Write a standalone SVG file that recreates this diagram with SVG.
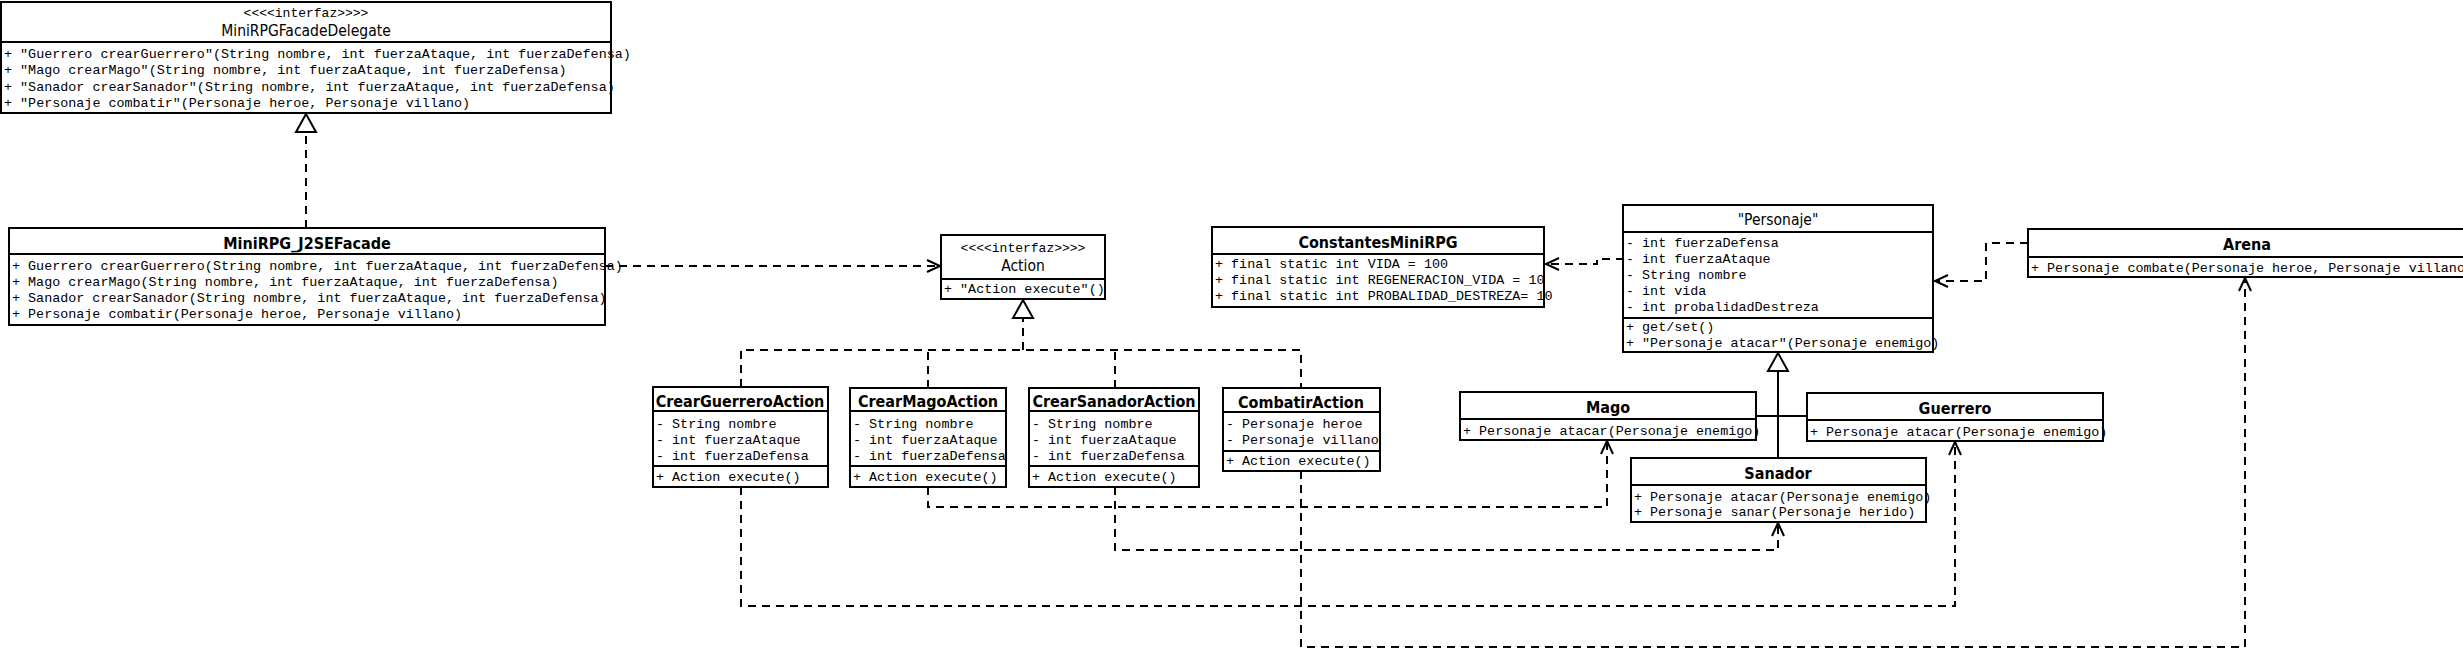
<svg xmlns="http://www.w3.org/2000/svg" width="2463" height="665" viewBox="0 0 2463 665">
<style>
.box{fill:#fff;stroke:#000;stroke-width:2}
.ln{fill:none;stroke:#000;stroke-width:2}
.mono{font-family:"Liberation Mono","DejaVu Sans Mono",monospace;font-size:13.4px;fill:#000}
.ster{font-family:"Liberation Mono","DejaVu Sans Mono",monospace;font-size:13px;fill:#000;text-anchor:middle}
.bt{font-family:"DejaVu Sans Condensed","DejaVu Sans",sans-serif;font-stretch:condensed;font-weight:bold;font-size:16px;text-anchor:middle;fill:#000}
.rt{font-family:"DejaVu Sans Condensed","DejaVu Sans",sans-serif;font-stretch:condensed;font-size:15.5px;text-anchor:middle;fill:#000}
.dep{fill:none;stroke:#000;stroke-width:2;stroke-dasharray:8 6}
.sol{fill:none;stroke:#000;stroke-width:2}
</style>
<defs>
<marker id="open" markerUnits="userSpaceOnUse" markerWidth="16" markerHeight="14" refX="13" refY="6" orient="auto" overflow="visible">
<path d="M0,0 L13,6 L0,12" fill="none" stroke="#000" stroke-width="2" stroke-dasharray="none"/>
</marker>
<marker id="tri" markerUnits="userSpaceOnUse" markerWidth="22" markerHeight="24" refX="18" refY="10" orient="auto" overflow="visible">
<path d="M0,0 L18,10 L0,20 Z" fill="#fff" stroke="#000" stroke-width="2" stroke-dasharray="none"/>
</marker>
</defs>
<rect width="2463" height="665" fill="#fff"/>

<g id="connectors">
<path class="dep" d="M306,228 V114" marker-end="url(#tri)"/>
<path class="dep" d="M605,266 H940" marker-end="url(#open)"/>
<path class="dep" d="M741,387 V350 H1301 V388"/>
<path class="dep" d="M928,388 V350"/>
<path class="dep" d="M1115,388 V350"/>
<path class="dep" d="M1023,350 V300" marker-end="url(#tri)"/>
<path class="dep" d="M741,487 V606 H1955 V442" marker-end="url(#open)"/>
<path class="dep" d="M928,487 V507 H1607 V441" marker-end="url(#open)"/>
<path class="dep" d="M1115,487 V550 H1778 V523" marker-end="url(#open)"/>
<path class="dep" d="M1301,471 V647 H2245 V278" marker-end="url(#open)"/>
<path class="dep" d="M1624,259 H1597 V264 H1546" marker-end="url(#open)"/>
<path class="dep" d="M2028,243 H1986 V281 H1935" marker-end="url(#open)"/>
<path class="sol" d="M1778,458 V353" marker-end="url(#tri)"/>
<path class="sol" d="M1756,416 H1807"/>
</g>

<g id="MiniRPGFacadeDelegate">
<rect class="box" x="1" y="2" width="610" height="111"/>
<line class="ln" x1="1" y1="42" x2="611" y2="42"/>
<text class="ster" x="306" y="17">&lt;&lt;&lt;&lt;interfaz&gt;&gt;&gt;&gt;</text>
<text class="rt" x="306" y="36">MiniRPGFacadeDelegate</text>
<text class="mono" x="4" y="58">+ "Guerrero crearGuerrero"(String nombre, int fuerzaAtaque, int fuerzaDefensa)</text>
<text class="mono" x="4" y="74">+ "Mago crearMago"(String nombre, int fuerzaAtaque, int fuerzaDefensa)</text>
<text class="mono" x="4" y="91">+ "Sanador crearSanador"(String nombre, int fuerzaAtaque, int fuerzaDefensa)</text>
<text class="mono" x="4" y="107">+ "Personaje combatir"(Personaje heroe, Personaje villano)</text>
</g>

<g id="MiniRPG_J2SEFacade">
<rect class="box" x="9" y="228" width="596" height="97"/>
<line class="ln" x1="9" y1="254" x2="605" y2="254"/>
<text class="bt" x="307" y="249">MiniRPG_J2SEFacade</text>
<text class="mono" x="12" y="270">+ Guerrero crearGuerrero(String nombre, int fuerzaAtaque, int fuerzaDefensa)</text>
<text class="mono" x="12" y="286">+ Mago crearMago(String nombre, int fuerzaAtaque, int fuerzaDefensa)</text>
<text class="mono" x="12" y="302">+ Sanador crearSanador(String nombre, int fuerzaAtaque, int fuerzaDefensa)</text>
<text class="mono" x="12" y="318">+ Personaje combatir(Personaje heroe, Personaje villano)</text>
</g>

<g id="Action">
<rect class="box" x="941" y="235" width="164" height="64"/>
<line class="ln" x1="941" y1="279" x2="1105" y2="279"/>
<text class="ster" x="1023" y="252">&lt;&lt;&lt;&lt;interfaz&gt;&gt;&gt;&gt;</text>
<text class="rt" x="1023" y="271">Action</text>
<text class="mono" x="944" y="293">+ "Action execute"()</text>
</g>

<g id="CrearGuerreroAction">
<rect class="box" x="653" y="387" width="175" height="100"/>
<line class="ln" x1="653" y1="411" x2="828" y2="411"/>
<line class="ln" x1="653" y1="466" x2="828" y2="466"/>
<text class="bt" x="740" y="407">CrearGuerreroAction</text>
<text class="mono" x="656" y="428">- String nombre</text>
<text class="mono" x="656" y="444">- int fuerzaAtaque</text>
<text class="mono" x="656" y="460">- int fuerzaDefensa</text>
<text class="mono" x="656" y="481">+ Action execute()</text>
</g>

<g id="CrearMagoAction">
<rect class="box" x="850" y="388" width="156" height="99"/>
<line class="ln" x1="850" y1="411" x2="1006" y2="411"/>
<line class="ln" x1="850" y1="466" x2="1006" y2="466"/>
<text class="bt" x="928" y="407">CrearMagoAction</text>
<text class="mono" x="853" y="428">- String nombre</text>
<text class="mono" x="853" y="444">- int fuerzaAtaque</text>
<text class="mono" x="853" y="460">- int fuerzaDefensa</text>
<text class="mono" x="853" y="481">+ Action execute()</text>
</g>

<g id="CrearSanadorAction">
<rect class="box" x="1029" y="388" width="170" height="99"/>
<line class="ln" x1="1029" y1="411" x2="1199" y2="411"/>
<line class="ln" x1="1029" y1="466" x2="1199" y2="466"/>
<text class="bt" x="1114" y="407">CrearSanadorAction</text>
<text class="mono" x="1032" y="428">- String nombre</text>
<text class="mono" x="1032" y="444">- int fuerzaAtaque</text>
<text class="mono" x="1032" y="460">- int fuerzaDefensa</text>
<text class="mono" x="1032" y="481">+ Action execute()</text>
</g>

<g id="CombatirAction">
<rect class="box" x="1223" y="388" width="157" height="83"/>
<line class="ln" x1="1223" y1="412" x2="1380" y2="412"/>
<line class="ln" x1="1223" y1="451" x2="1380" y2="451"/>
<text class="bt" x="1301" y="408">CombatirAction</text>
<text class="mono" x="1226" y="428">- Personaje heroe</text>
<text class="mono" x="1226" y="444">- Personaje villano</text>
<text class="mono" x="1226" y="465">+ Action execute()</text>
</g>

<g id="ConstantesMiniRPG">
<rect class="box" x="1212" y="227" width="332" height="80"/>
<line class="ln" x1="1212" y1="254" x2="1544" y2="254"/>
<text class="bt" x="1378" y="248">ConstantesMiniRPG</text>
<text class="mono" x="1215" y="268">+ final static int VIDA = 100</text>
<text class="mono" x="1215" y="284">+ final static int REGENERACION_VIDA = 10</text>
<text class="mono" x="1215" y="300">+ final static int PROBALIDAD_DESTREZA= 10</text>
</g>

<g id="Personaje">
<rect class="box" x="1623" y="205" width="310" height="147"/>
<line class="ln" x1="1623" y1="232" x2="1933" y2="232"/>
<line class="ln" x1="1623" y1="318" x2="1933" y2="318"/>
<text class="rt" x="1778" y="225">"Personaje"</text>
<text class="mono" x="1626" y="247">- int fuerzaDefensa</text>
<text class="mono" x="1626" y="263">- int fuerzaAtaque</text>
<text class="mono" x="1626" y="279">- String nombre</text>
<text class="mono" x="1626" y="295">- int vida</text>
<text class="mono" x="1626" y="311">- int probalidadDestreza</text>
<text class="mono" x="1626" y="331">+ get/set()</text>
<text class="mono" x="1626" y="347">+ "Personaje atacar"(Personaje enemigo)</text>
</g>

<g id="Arena">
<rect class="box" x="2028" y="229" width="440" height="48"/>
<line class="ln" x1="2028" y1="257" x2="2468" y2="257"/>
<text class="bt" x="2247" y="250">Arena</text>
<text class="mono" x="2031" y="272">+ Personaje combate(Personaje heroe, Personaje villano)</text>
</g>

<g id="Mago">
<rect class="box" x="1460" y="392" width="296" height="48"/>
<line class="ln" x1="1460" y1="419" x2="1756" y2="419"/>
<text class="bt" x="1608" y="413">Mago</text>
<text class="mono" x="1463" y="435">+ Personaje atacar(Personaje enemigo)</text>
</g>

<g id="Guerrero">
<rect class="box" x="1807" y="393" width="296" height="48"/>
<line class="ln" x1="1807" y1="420" x2="2103" y2="420"/>
<text class="bt" x="1955" y="414">Guerrero</text>
<text class="mono" x="1810" y="436">+ Personaje atacar(Personaje enemigo)</text>
</g>

<g id="Sanador">
<rect class="box" x="1631" y="458" width="295" height="64"/>
<line class="ln" x1="1631" y1="485" x2="1926" y2="485"/>
<text class="bt" x="1778" y="479">Sanador</text>
<text class="mono" x="1634" y="501">+ Personaje atacar(Personaje enemigo)</text>
<text class="mono" x="1634" y="516">+ Personaje sanar(Personaje herido)</text>
</g>
</svg>
